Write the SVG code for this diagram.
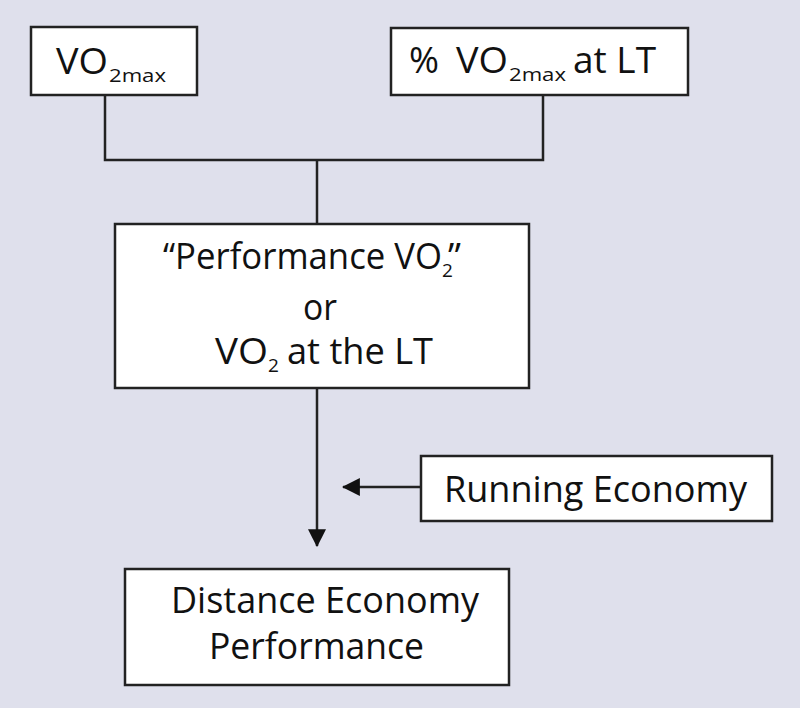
<svg xmlns="http://www.w3.org/2000/svg" width="800" height="708" viewBox="0 0 800 708">
<style>
.box{fill:#ffffff;stroke:#222222;stroke-width:2.5}
.ln{fill:none;stroke:#222222;stroke-width:2.5}
text{font-family:"Open Sans","Noto Sans",sans-serif;fill:#111111;font-size:37px}
.sub{font-size:19px}
</style>
<defs>
<marker id="ah" markerWidth="18" markerHeight="18" refX="15" refY="8" orient="auto" markerUnits="userSpaceOnUse" viewBox="0 0 16 16">
<path d="M0,0 L16,8 L0,16 Z" fill="#111111"/>
</marker>
</defs>
<rect width="800" height="708" fill="#dfe0ec"/>
<g id="connectors">
<path class="ln" d="M105,95 V160 H543 V95"/>
<path class="ln" d="M317,160 V224"/>
<path class="ln" d="M317,388 V546" marker-end="url(#ah)"/>
<path class="ln" d="M421,487 H343" marker-end="url(#ah)"/>
</g>
<g id="vo2max">
<rect class="box" x="31" y="27" width="166" height="68"/>
<text x="56" y="74" textLength="52" lengthAdjust="spacingAndGlyphs">VO</text>
<text class="sub" x="109" y="82" textLength="57" lengthAdjust="spacingAndGlyphs">2max</text>
</g>
<g id="pct-vo2max-lt">
<rect class="box" x="391" y="28" width="297" height="67"/>
<text x="409" y="73" textLength="30" lengthAdjust="spacingAndGlyphs">%</text>
<text x="456" y="73" textLength="52" lengthAdjust="spacingAndGlyphs">VO</text>
<text class="sub" x="509" y="81" textLength="57" lengthAdjust="spacingAndGlyphs">2max</text>
<text x="573" y="73" textLength="83" lengthAdjust="spacingAndGlyphs">at LT</text>
</g>
<g id="performance-vo2">
<rect class="box" x="115" y="224" width="414" height="164"/>
<text x="163" y="269" textLength="279" lengthAdjust="spacingAndGlyphs">“Performance VO</text>
<text class="sub" x="442" y="277">2</text>
<text x="448" y="269">”</text>
<text x="320" y="320" text-anchor="middle" textLength="34" lengthAdjust="spacingAndGlyphs">or</text>
<text x="215" y="364" textLength="53" lengthAdjust="spacingAndGlyphs">VO</text>
<text class="sub" x="268" y="372">2</text>
<text x="287" y="364" textLength="146" lengthAdjust="spacingAndGlyphs">at the LT</text>
</g>
<g id="running-economy">
<rect class="box" x="421" y="456" width="351" height="65"/>
<text x="444" y="502" textLength="303" lengthAdjust="spacingAndGlyphs">Running Economy</text>
</g>
<g id="distance-performance">
<rect class="box" x="125" y="569" width="384" height="116"/>
<text x="171" y="613" textLength="308" lengthAdjust="spacingAndGlyphs">Distance Economy</text>
<text x="209" y="659" textLength="215" lengthAdjust="spacingAndGlyphs">Performance</text>
</g>
</svg>
